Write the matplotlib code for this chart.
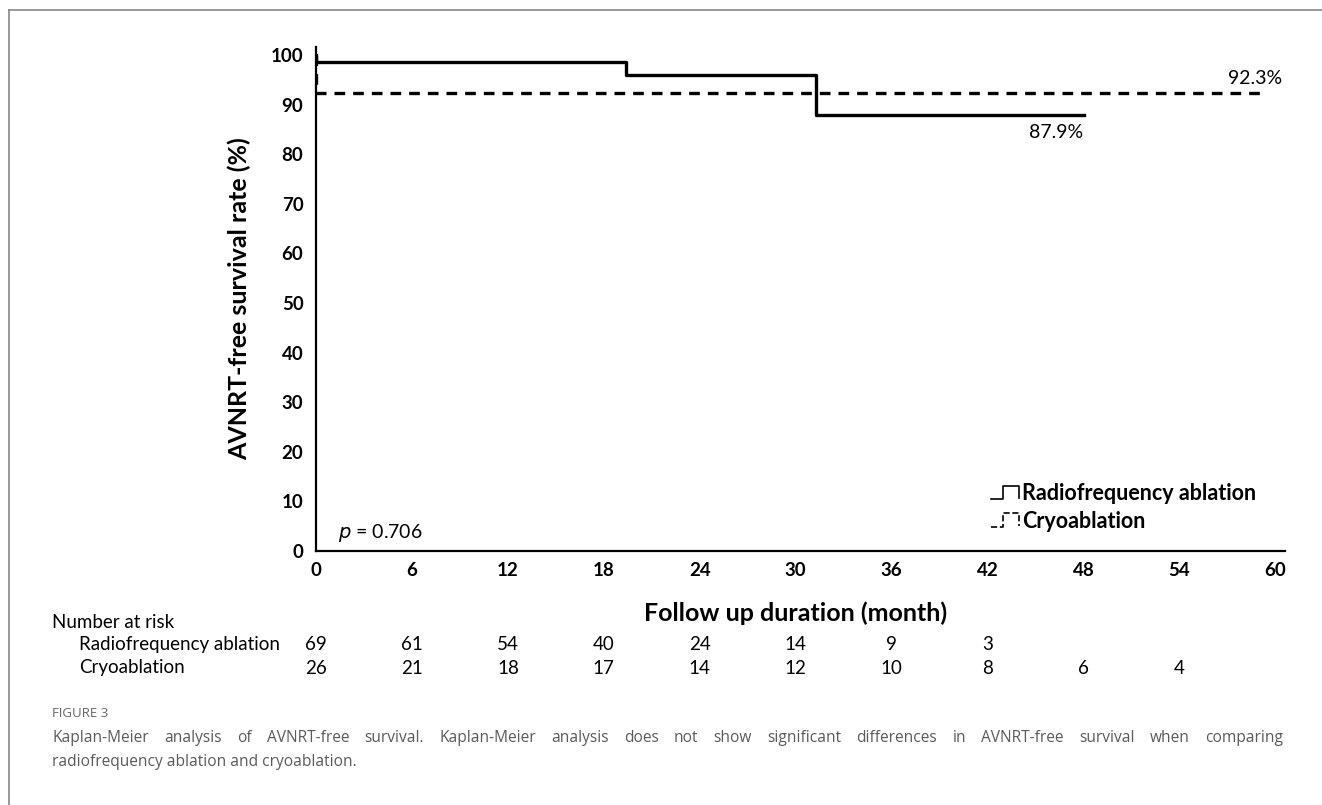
import matplotlib
matplotlib.use("Agg")
import matplotlib.pyplot as plt
from matplotlib.lines import Line2D
from matplotlib.legend_handler import HandlerBase

# Kaplan-Meier step data
rf_time = [0, 0, 19.4, 31.3, 48]
rf_surv = [100, 98.6, 96.0, 87.9, 87.9]
cryo_time = [0, 0, 59.5]
cryo_surv = [100, 92.3, 92.3]

x_ticks = [0, 6, 12, 18, 24, 30, 36, 42, 48, 54, 60]
y_ticks = [0, 10, 20, 30, 40, 50, 60, 70, 80, 90, 100]

# number at risk
risk_months_rf = [0, 6, 12, 18, 24, 30, 36, 42]
risk_rf = [69, 61, 54, 40, 24, 14, 9, 3]
risk_months_cryo = [0, 6, 12, 18, 24, 30, 36, 42, 48, 54]
risk_cryo = [26, 21, 18, 17, 14, 12, 10, 8, 6, 4]

caption1 = ("Kaplan-Meier analysis of AVNRT-free survival. Kaplan-Meier analysis does not show "
            "significant differences in AVNRT-free survival when comparing")
caption2 = "radiofrequency ablation and cryoablation."

chart_font = "Lato"
cap_font = "Open Sans"
W, H = 1322, 805


class StepHandler(HandlerBase):
    # small step-shaped legend icon like the original
    def create_artists(self, legend, orig_handle, xdescent, ydescent, width, height,
                       fontsize, trans):
        x0, y0 = -xdescent, -ydescent
        xs = [x0, x0 + 0.45 * width, x0 + 0.45 * width, x0 + width, x0 + width]
        ys = [y0, y0, y0 + height, y0 + height, y0 + 0.1 * height]
        ln = Line2D(xs, ys, color="black", lw=1.2, linestyle=orig_handle.get_linestyle())
        ln.set_transform(trans)
        return [ln]


fig = plt.figure(figsize=(W / 100, H / 100), dpi=100)
ax = fig.add_axes([316 / W, 1 - 551 / H, 969 / W, 504 / H])

l1, = ax.plot(rf_time, rf_surv, drawstyle="steps-post", color="black", lw=2.4,
              label="Radiofrequency ablation")
l2, = ax.plot(cryo_time, cryo_surv, drawstyle="steps-post", color="black", lw=2.4,
              dashes=(3.2, 2.4), label="Cryoablation")

ax.set_xlim(0, 60.6)
ax.set_ylim(0, 101.6)
ax.set_xticks(x_ticks)
ax.set_yticks(y_ticks)
ax.tick_params(length=0, labelsize=13.5)
ax.tick_params(axis="x", pad=8)
ax.tick_params(axis="y", pad=9)
for lbl in ax.get_xticklabels() + ax.get_yticklabels():
    lbl.set_fontweight("bold")
    lbl.set_fontfamily(chart_font)
for s in ["top", "right"]:
    ax.spines[s].set_visible(False)
for s in ["left", "bottom"]:
    ax.spines[s].set_linewidth(1.6)

ax.set_ylabel("AVNRT-free survival rate (%)", fontsize=18, fontweight="bold",
              family=chart_font, labelpad=14)

ax.text(60.4, 93.6, "92.3%", fontsize=14, family=chart_font, ha="right", va="bottom")
ax.text(48, 86.0, "87.9%", fontsize=14, family=chart_font, ha="right", va="top")
ax.text(1.4, 1.5, r"$p$ = 0.706", fontsize=14, family=chart_font, ha="left", va="bottom")

leg_ls = [Line2D([], [], color="black", linestyle="-"),
          Line2D([], [], color="black", linestyle=(0, (3, 3)))]
ax.legend(leg_ls, [l1.get_label(), l2.get_label()], loc="lower right",
          bbox_to_anchor=(0.99, 0.0), frameon=False,
          handlelength=1.3, handleheight=0.6, handletextpad=0.15, labelspacing=0.3,
          handler_map={Line2D: StepHandler()},
          prop={"family": chart_font, "weight": "bold", "size": 15.5})

# x label and number at risk table, in data x-coords
tr = ax.get_xaxis_transform()
ax.text(30, -(613 - 551) / 504, "Follow up duration (month)", transform=tr, ha="center",
        va="center", fontsize=18, fontweight="bold", family=chart_font)

fig.text(52 / W, 1 - 622 / H, "Number at risk", fontsize=13.5, family=chart_font,
         va="center")
fig.text(79 / W, 1 - 644 / H, "Radiofrequency ablation", fontsize=13.5,
         family=chart_font, va="center")
fig.text(79 / W, 1 - 668 / H, "Cryoablation", fontsize=13.5, family=chart_font,
         va="center")
for m, n in zip(risk_months_rf, risk_rf):
    ax.text(m, -(644 - 551) / 504, str(n), transform=tr, ha="center", va="center",
            fontsize=13.5, family=chart_font, clip_on=False)
for m, n in zip(risk_months_cryo, risk_cryo):
    ax.text(m, -(668 - 551) / 504, str(n), transform=tr, ha="center", va="center",
            fontsize=13.5, family=chart_font, clip_on=False)

# caption
grey = "#5a5a5a"
fig.text(52 / W, 1 - 713 / H, "FIGURE 3", fontsize=9.5, family=cap_font,
         color="#666666", va="center")

# first caption line is justified between x=52 and x=1283
renderer = fig.canvas.get_renderer()
words = caption1.split()
widths = []
for w in words:
    t = fig.text(0, 0, w, fontsize=11.2, family=cap_font)
    widths.append(t.get_window_extent(renderer).width)
    t.remove()
gap = (1283 - 52 - sum(widths)) / (len(words) - 1)
xpos = 52
for w, wd in zip(words, widths):
    fig.text(xpos / W, 1 - 738 / H, w, fontsize=11.2, family=cap_font, color=grey,
             va="center")
    xpos += wd + gap
fig.text(52 / W, 1 - 762 / H, caption2, fontsize=11.2, family=cap_font, color=grey,
         va="center")

# panel frame (top and left)
fig.add_artist(Line2D([9 / W, 9 / W], [0, 1 - 10 / H], color="#888888", lw=1.2))
fig.add_artist(Line2D([9 / W, 1], [1 - 10 / H, 1 - 10 / H], color="#888888", lw=1.2))

fig.savefig("out.png", dpi=100)
